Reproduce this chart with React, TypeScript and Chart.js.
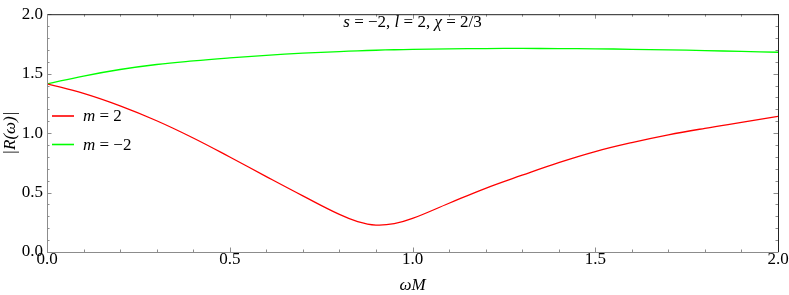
import { useEffect, useRef } from "react";
import { Chart, registerables } from "chart.js";
Chart.register(...registerables);

const omegaM = [0, 0.1, 0.2, 0.3, 0.4, 0.5, 0.6, 0.7, 0.8, 0.85, 0.9, 0.95, 1.0, 1.1, 1.2, 1.3, 1.4, 1.5, 1.6, 1.7, 1.8, 1.9, 2.0];
const rM2 = [1.414, 1.334, 1.229, 1.104, 0.959, 0.799, 0.634, 0.472, 0.316, 0.256, 0.2265, 0.238, 0.282, 0.41, 0.536, 0.646, 0.752, 0.845, 0.92, 0.985, 1.04, 1.09, 1.14];
const rMm2 = [1.414, 1.48, 1.535, 1.577, 1.607, 1.632, 1.654, 1.672, 1.686, 1.692, 1.697, 1.701, 1.704, 1.708, 1.711, 1.712, 1.711, 1.709, 1.705, 1.7, 1.694, 1.687, 1.68];
const seriesLabels = ["m = 2", "m = \u22122"];
const seriesColors = ["#ff0000", "#00ff00"];
const xTicks = [0, 0.5, 1.0, 1.5, 2.0];
const yTicks = [0, 0.5, 1.0, 1.5, 2.0];
const titleParts: [string, boolean][] = [
  ["s", true], [" = \u22122, ", false], ["l", true], [" = 2, ", false], ["\u03c7", true], [" = 2/3", false],
];

const FONT = "'Liberation Serif'";

function drawParts(ctx: CanvasRenderingContext2D, parts: [string, boolean][], x: number, y: number, size: number, center: boolean) {
  const widths = parts.map(([t, it]) => {
    ctx.font = `${it ? "italic " : ""}${size}px ${FONT}`;
    return ctx.measureText(t).width;
  });
  const total = widths.reduce((a, b) => a + b, 0);
  let cx = center ? x - total / 2 : x;
  ctx.textBaseline = "middle";
  ctx.textAlign = "left";
  parts.forEach(([t, it], i) => {
    ctx.font = `${it ? "italic " : ""}${size}px ${FONT}`;
    ctx.fillText(t, cx, y);
    cx += widths[i];
  });
}

const framePlugin = {
  id: "frameTicks",
  afterDraw(chart: any) {
    const { ctx, chartArea } = chart;
    const { left, right, top, bottom } = chartArea;
    const xs = chart.scales.x;
    const ys = chart.scales.y;
    ctx.save();
    ctx.lineWidth = 1;
    ctx.strokeStyle = "#8c8c8c";
    for (let i = 0; i <= 20; i++) {
      const v = i / 10;
      const major = i % 5 === 0;
      const len = major ? 4.5 : 2.5;
      const px = Math.round(xs.getPixelForValue(v)) + 0.5;
      const py = Math.round(ys.getPixelForValue(v)) + 0.5;
      ctx.beginPath();
      ctx.moveTo(px, bottom); ctx.lineTo(px, bottom - len);
      ctx.moveTo(px, top); ctx.lineTo(px, top + len);
      ctx.moveTo(left, py); ctx.lineTo(left + len, py);
      ctx.moveTo(right, py); ctx.lineTo(right - len, py);
      ctx.stroke();
    }
    ctx.strokeStyle = "#222222";
    ctx.beginPath();
    ctx.moveTo(left, top + 0.5); ctx.lineTo(right + 0.5, top + 0.5);
    ctx.moveTo(right + 0.5, top); ctx.lineTo(right + 0.5, bottom);
    ctx.stroke();
    ctx.strokeStyle = "#8c8c8c";
    ctx.beginPath();
    ctx.moveTo(left + 0.5, top); ctx.lineTo(left + 0.5, bottom + 0.5);
    ctx.lineTo(right + 0.5, bottom + 0.5);
    ctx.stroke();

    ctx.fillStyle = "#000";
    drawParts(ctx, titleParts, (left + right) / 2, top + 8, 17, true);

    chart.data.datasets.forEach((ds: any, i: number) => {
      const y = 116 + i * 28.5;
      ctx.strokeStyle = ds.borderColor;
      ctx.lineWidth = 1.6;
      ctx.beginPath();
      ctx.moveTo(left + 5, y); ctx.lineTo(left + 27, y);
      ctx.stroke();
      const lbl: string = ds.label;
      const parts: [string, boolean][] = [[lbl.slice(0, 1), true], [lbl.slice(1), false]];
      ctx.fillStyle = "#000";
      drawParts(ctx, parts, left + 36, y + 1, 17, false);
    });
    ctx.restore();
  },
};

export default function App() {
  const ref = useRef<HTMLCanvasElement>(null);
  useEffect(() => {
    document.body.style.margin = "0";
    let chart: Chart | null = null;
    let cancelled = false;
    const build = () => {
      if (cancelled || !ref.current) return;
      chart = new Chart(ref.current, {
        type: "line",
        data: {
          datasets: [rM2, rMm2].map((vals, i) => ({
            label: seriesLabels[i],
            data: omegaM.map((x, j) => ({ x, y: vals[j] })),
            borderColor: seriesColors[i],
            borderWidth: 1.3,
            pointRadius: 0,
            fill: false,
            tension: 0.4,
          })),
        },
        options: {
          animation: false,
          responsive: false,
          maintainAspectRatio: false,
          layout: { padding: { left: 0, right: 11, top: 8, bottom: 0 } },
          plugins: { legend: { display: false }, tooltip: { enabled: false }, title: { display: false } },
          scales: {
            x: {
              type: "linear",
              min: 0,
              max: 2,
              afterBuildTicks: (s: any) => { s.ticks = xTicks.map((v) => ({ value: v })); },
              afterFit: (s: any) => { s.height = 43; },
              grid: { display: false, drawTicks: false, tickLength: 0 },
              border: { display: false },
              ticks: {
                color: "#000",
                padding: -3,
                maxRotation: 0,
                font: { family: FONT, size: 17 },
                callback: (v: any) => Number(v).toFixed(1),
              },
              title: {
                display: true,
                text: "\u03c9M",
                color: "#000",
                padding: { top: 0, bottom: -1 },
                font: { family: FONT, size: 17, style: "italic" },
              },
            },
            y: {
              type: "linear",
              min: 0,
              max: 2,
              afterBuildTicks: (s: any) => { s.ticks = yTicks.map((v) => ({ value: v })); },
              afterFit: (s: any) => { s.width = 47; },
              grid: { display: false, drawTicks: false, tickLength: 0 },
              border: { display: false },
              ticks: {
                color: "#000",
                padding: 4,
                font: { family: FONT, size: 17 },
                callback: (v: any) => Number(v).toFixed(1),
              },
              title: {
                display: true,
                text: "|R(\u03c9)|",
                color: "#000",
                padding: { top: 0, bottom: 0 },
                font: { family: FONT, size: 17, style: "italic" },
              },
            },
          },
        },
        plugins: [framePlugin],
      });
    };
    const fonts: any = (document as any).fonts;
    if (fonts && fonts.load) {
      Promise.all([
        fonts.load("17px 'Liberation Serif'"),
        fonts.load("italic 17px 'Liberation Serif'"),
      ]).then(build, build);
    } else {
      build();
    }
    return () => {
      cancelled = true;
      if (chart) chart.destroy();
    };
  }, []);
  return (
    <div style={{ width: 789, height: 295 }}>
      <canvas ref={ref} width={789} height={295} style={{ display: "block" }} />
    </div>
  );
}
